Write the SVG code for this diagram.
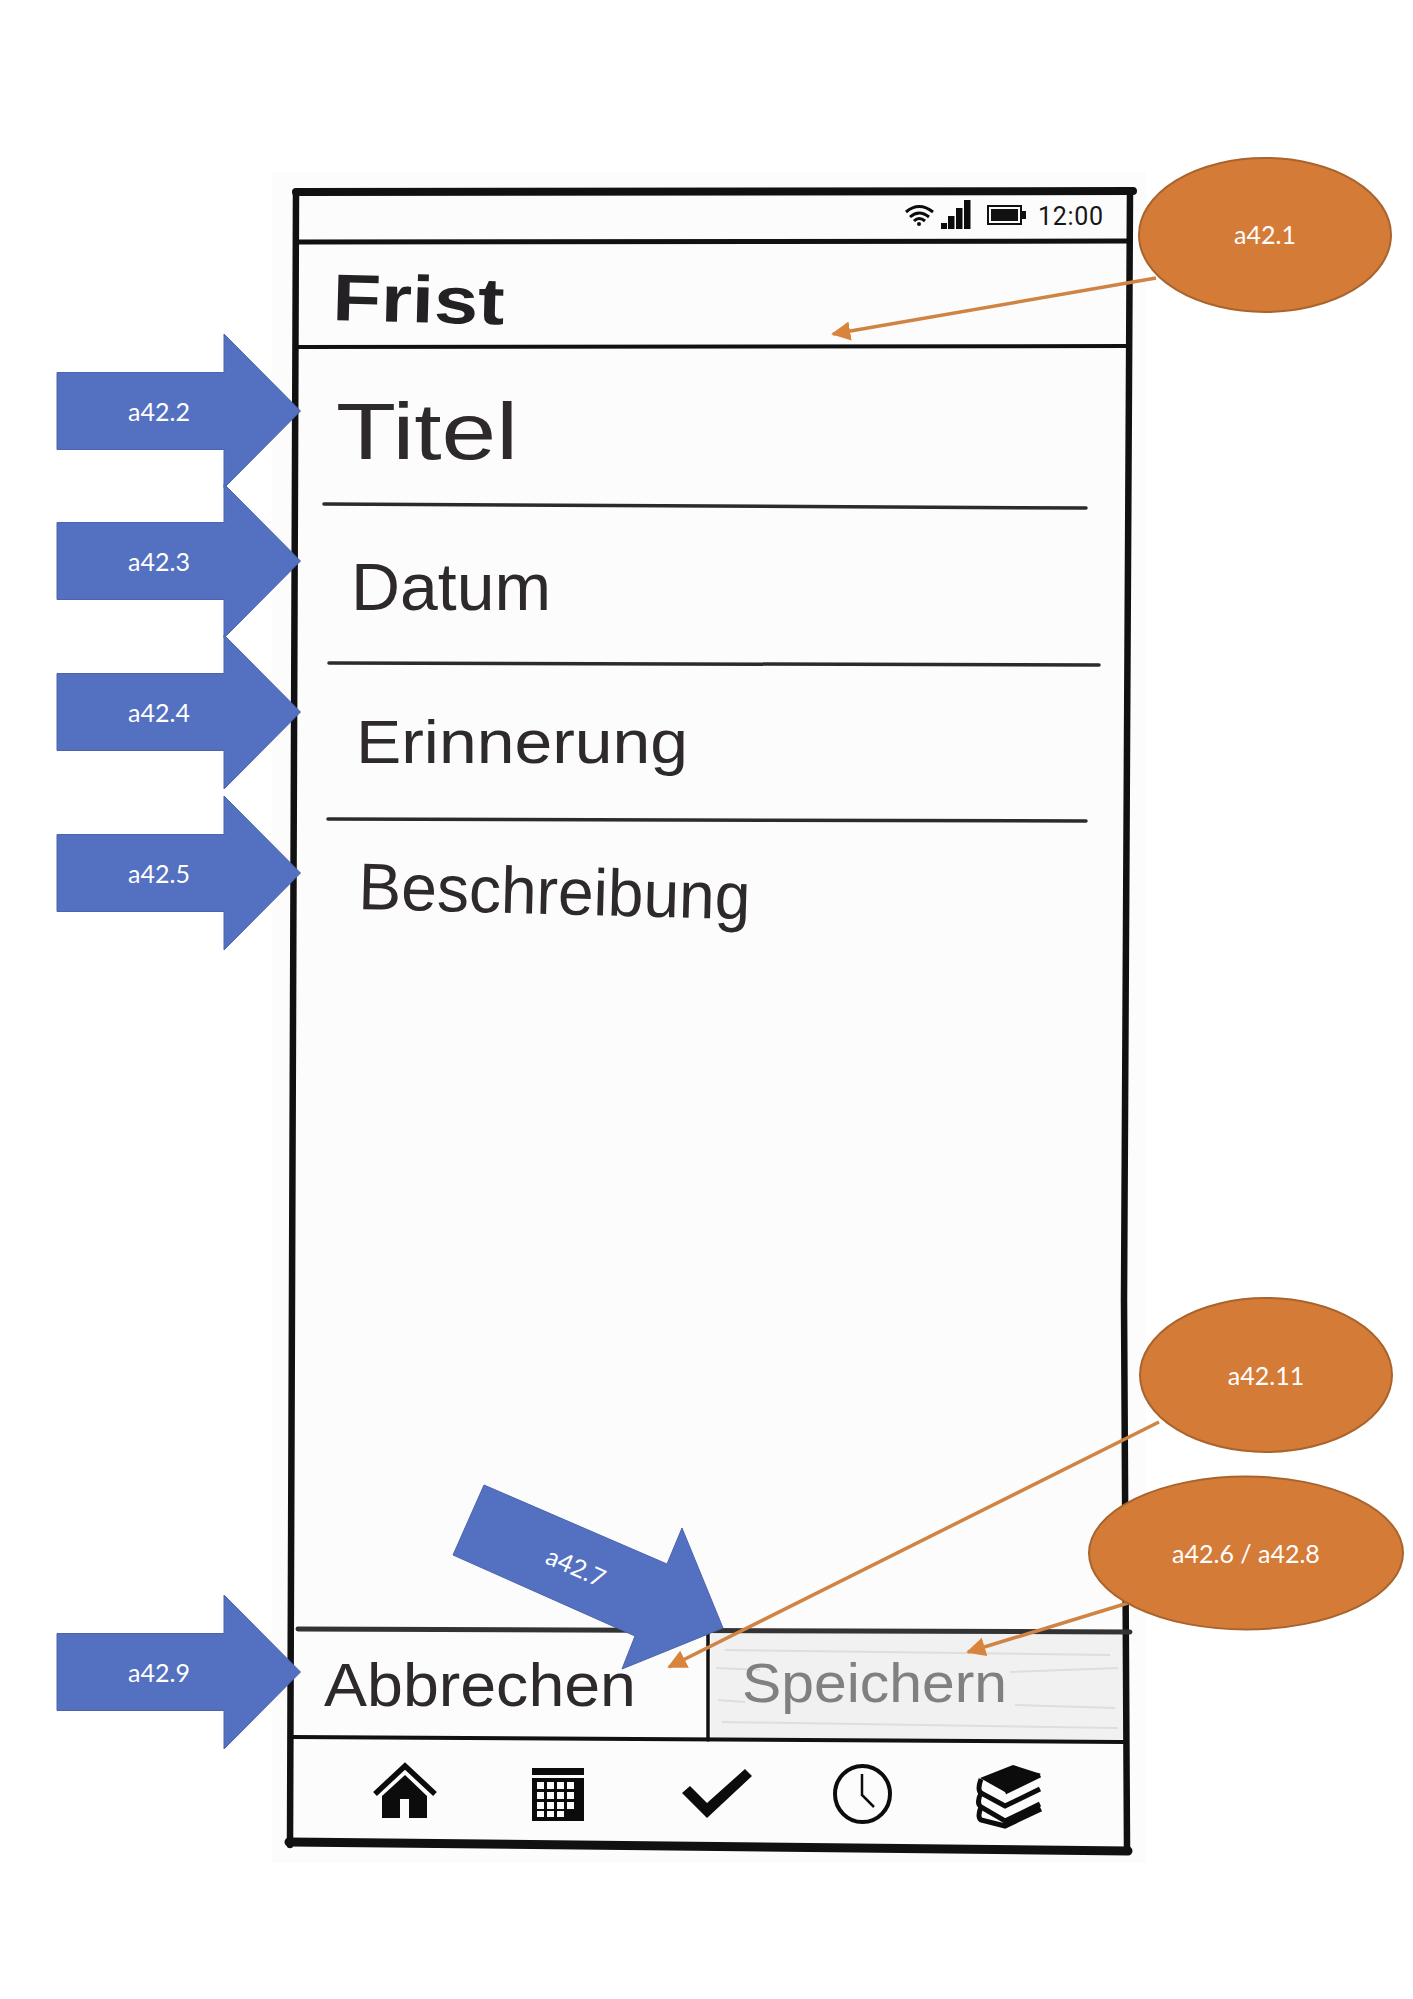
<svg xmlns="http://www.w3.org/2000/svg" width="1413" height="1999" viewBox="0 0 1413 1999">
<style>
.ink{fill:none;stroke:#111;stroke-linecap:round;stroke-linejoin:miter}
.rule{fill:none;stroke:#2b2b2b;stroke-width:3.5;stroke-linecap:round}
.hand{font-family:"Liberation Sans",Arial,sans-serif;fill:#2e2a2c}
.blue{fill:#5470c0;stroke:#4a64ad;stroke-width:1}
.orange{fill:#d57b38;stroke:#a8642c;stroke-width:2}
.lab{font-family:Lato,"Open Sans",sans-serif;font-size:25px;fill:#fff;text-anchor:middle}
.conn{fill:none;stroke:#d08444;stroke-width:3.5;marker-end:url(#tip)}
.k{fill:#0c0c0c}
</style>
<defs>
<marker id="tip" viewBox="0 0 10 10" refX="9" refY="5" markerWidth="5.5" markerHeight="5.5" orient="auto"><path d="M0 0L10 5L0 10Z" fill="#d9843c"/></marker>
<polygon id="rarrow" points="57,-38.5 224,-38.5 224,-77 300.500,0 224,77 224,38.5 57,38.5"/>
</defs>
<rect width="1413" height="1999" fill="#fff"/>
<g id="phone">
<rect x="272" y="172" width="874" height="1691" fill="#fcfcfc"/>
<rect x="711" y="1633" width="413" height="106" fill="#f1f1f1"/>
<g fill="none" stroke="#dedede" stroke-width="2">
<path d="M725 1650L1110 1655M716 1668L760 1670M1010 1672L1118 1668M718 1700L745 1702M1015 1705L1115 1708M722 1722L1118 1728"/>
</g>
<path class="ink" stroke-width="8" d="M296 192L1133 191"/>
<path class="ink" stroke-width="6.500" d="M296 192L290 1845"/>
<path class="ink" stroke-width="6.500" d="M1130 191L1124 1300L1127 1849"/>
<path class="ink" stroke-width="9" d="M289 1842L1128 1851"/>
<path class="ink" stroke-width="5" d="M297 242L1130 241"/>
<path class="ink" stroke-width="4" d="M297 347L1128 346"/>
<path class="rule" d="M324 504L1086 508"/>
<path class="rule" d="M329 663L1099 665"/>
<path class="rule" d="M328 819L1086 821"/>
<path d="M298 1629L1130 1632" fill="none" stroke="#333" stroke-width="5" stroke-linecap="round"/>
<path class="ink" stroke-width="3.500" d="M708 1630V1740"/>
<path class="ink" stroke-width="4" d="M291 1737L1125 1742"/>
</g>
<g id="status-bar">
<g fill="none" stroke="#0c0c0c" stroke-width="3">
<path d="M906 212Q919 201 933 212"/><path d="M910 217Q919 209 929 217"/><path d="M914 221Q919 216 925 221"/>
</g>
<circle class="k" cx="919" cy="224" r="2"/>
<path class="k" d="M941 223h6v6h-6zM948 216h6.500v13h-6.500zM956 208h6.500v21h-6.500zM964 200h6.500v29h-6.500z"/>
<rect x="988" y="206" width="33" height="18" fill="none" stroke="#111" stroke-width="2"/>
<rect x="991" y="209" width="27" height="12" fill="#111"/>
<rect x="1022" y="211" width="4" height="8" fill="#111"/>
<text x="1038" y="225" font-family="Roboto,sans-serif" font-size="25" fill="#161616" textLength="65">12:00</text>
</g>
<g id="heading"><text class="hand" x="332" y="320" font-size="66" font-weight="700" textLength="172" lengthAdjust="spacingAndGlyphs" style="fill:#242124" transform="rotate(1.5 332 320)">Frist</text></g>
<g id="field-titel"><text class="hand" x="336" y="459" font-size="80" textLength="182" lengthAdjust="spacingAndGlyphs">Titel</text></g>
<g id="field-datum"><text class="hand" x="351" y="610" font-size="66" textLength="200" lengthAdjust="spacingAndGlyphs">Datum</text></g>
<g id="field-erinnerung"><text class="hand" x="356" y="763" font-size="62" textLength="332" lengthAdjust="spacingAndGlyphs">Erinnerung</text></g>
<g id="field-beschreibung"><text class="hand" x="358" y="909" font-size="66" textLength="392" lengthAdjust="spacingAndGlyphs" transform="rotate(1.5 358 909)">Beschreibung</text></g>
<g id="button-abbrechen"><text class="hand" x="324" y="1706" font-size="62" textLength="312" lengthAdjust="spacingAndGlyphs">Abbrechen</text></g>
<g id="button-speichern"><text class="hand" x="742" y="1702" font-size="56" textLength="265" lengthAdjust="spacingAndGlyphs" style="fill:#808080">Speichern</text></g>
<g id="nav-home">
<path d="M375 1794L405 1766L435 1794" fill="none" stroke="#0c0c0c" stroke-width="5.500"/>
<path class="k" d="M405 1775L382 1796V1818H400V1799H409V1818H427V1796Z"/>
</g>
<g id="nav-calendar">
<path class="k" fill-rule="evenodd" d="M532 1768H584V1775H532ZM532 1778H584V1821H532ZM537 1782v7h7v-7zM547 1782v7h7v-7zM557 1782v7h7v-7zM567 1782v7h7v-7zM537 1792v7h7v-7zM547 1792v7h7v-7zM557 1792v7h7v-7zM567 1792v7h7v-7zM537 1802v7h7v-7zM547 1802v7h7v-7zM557 1802v7h7v-7zM567 1802v7h7v-7zM537 1811v6h7v-6zM547 1811v6h7v-6zM557 1811v6h7v-6z"/>
</g>
<g id="nav-check"><path class="k" d="M682 1793L690 1786L707 1803L745 1769L752 1776L707 1818Z"/></g>
<g id="nav-clock">
<ellipse cx="862.500" cy="1794" rx="27.500" ry="28" fill="none" stroke="#0c0c0c" stroke-width="4"/>
<path d="M862 1774V1795L874 1807" fill="none" stroke="#0c0c0c" stroke-width="2.500"/>
</g>
<g id="nav-books">
<path class="k" d="M980 1778L1013 1765L1041 1774L1005 1792Z"/>
<path fill="none" stroke="#0c0c0c" stroke-width="5" d="M981 1779Q977 1790 981 1793L1005 1806L1040 1789M981 1793Q976 1803 981 1807L1005 1821L1040 1804M981 1807Q977 1817 981 1820L1005 1826L1041 1809M1005 1792L1040 1775"/>
</g>
<g id="a42.2"><use href="#rarrow" class="blue" y="411"/><text class="lab" x="159" y="421">a42.2</text></g>
<g id="a42.3"><use href="#rarrow" class="blue" y="561"/><text class="lab" x="159" y="571">a42.3</text></g>
<g id="a42.4"><use href="#rarrow" class="blue" y="712"/><text class="lab" x="159" y="722">a42.4</text></g>
<g id="a42.5"><use href="#rarrow" class="blue" y="873"/><text class="lab" x="159" y="883">a42.5</text></g>
<g id="a42.9"><use href="#rarrow" class="blue" y="1672"/><text class="lab" x="159" y="1682">a42.9</text></g>
<g id="a42.7"><polygon class="blue" points="484,1485 453,1555 635,1636 622,1669 723,1628 682,1528 667,1564"/><text class="lab" x="576" y="1576" transform="rotate(24 576 1567)">a42.7</text></g>
<g id="connectors">
<path class="conn" d="M1156 278L833 334"/>
<path class="conn" d="M1159 1422L669 1667"/>
<path class="conn" d="M1128 1603L968 1652"/>
</g>
<g id="a42.1"><ellipse class="orange" cx="1265" cy="235" rx="126" ry="77"/><text class="lab" x="1265" y="244">a42.1</text></g>
<g id="a42.11"><ellipse class="orange" cx="1266" cy="1375" rx="126" ry="77"/><text class="lab" x="1266" y="1385">a42.11</text></g>
<g id="a42.6-a42.8"><ellipse class="orange" cx="1246" cy="1553" rx="157" ry="76.500"/><text class="lab" x="1246" y="1563">a42.6 / a42.8</text></g>
</svg>
